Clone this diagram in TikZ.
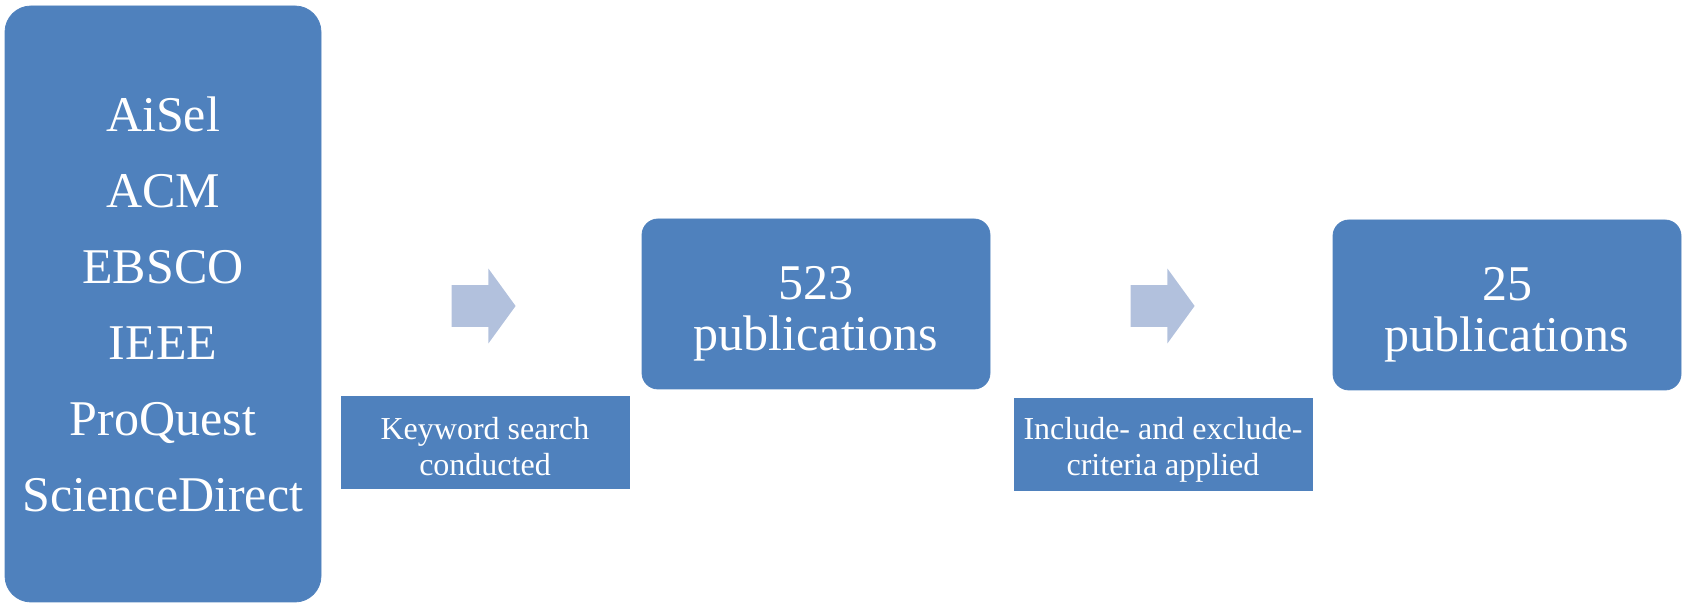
\documentclass[tikz,border=0pt]{standalone}
\usepackage{fontspec}
\setmainfont{Liberation Serif}
\usetikzlibrary{shapes.arrows}
\definecolor{boxblue}{HTML}{4F81BD}
\definecolor{arrowblue}{HTML}{B2C1DD}
\tikzset{
  srcbox/.style={fill=boxblue, draw=boxblue, rounded corners=13pt, text=white,
    align=center, minimum width=158pt, minimum height=298pt, inner sep=0pt,
    font=\fontsize{25}{38}\selectfont},
  countbox/.style={fill=boxblue, draw=boxblue, rounded corners=8pt, text=white,
    align=center, minimum width=174pt, minimum height=85pt, inner sep=0pt,
    font=\fontsize{25}{25.5}\selectfont, text height=52.5pt, text depth=6pt},
  stepbox/.style={fill=boxblue, draw=boxblue, text=white, align=center,
    minimum height=46pt, inner sep=0pt, font=\fontsize{16}{18}\selectfont,
    text height=38pt, text depth=4pt},
  flowarrow/.style={shape=single arrow, fill=arrowblue, draw=none,
    inner xsep=0pt, inner ysep=10.25pt, minimum height=32pt,
    single arrow head extend=8.25pt, single arrow tip angle=108}
}
\begin{document}
\begin{tikzpicture}[x=0.5pt,y=-0.5pt]
      \useasboundingbox (0,0) rectangle (1690,613);
      \draw
        (163,304) node[srcbox] (src){AiSel\\ACM\\EBSCO\\IEEE\\ProQuest\\ScienceDirect}
        (476,306) node[flowarrow] (a1){}
        (485,442) node[stepbox, minimum width=144pt] (kw){Keyword search\\conducted}
        (816,304) node[countbox] (n523){523\\publications}
        (1155,306) node[flowarrow] (a2){}
        (1163,444) node[stepbox, minimum width=149pt, text height=36pt] (crit){Include- and exclude-\\criteria applied}
        (1507,305) node[countbox] (n25){25\\publications};
    \end{tikzpicture}
\end{document}
